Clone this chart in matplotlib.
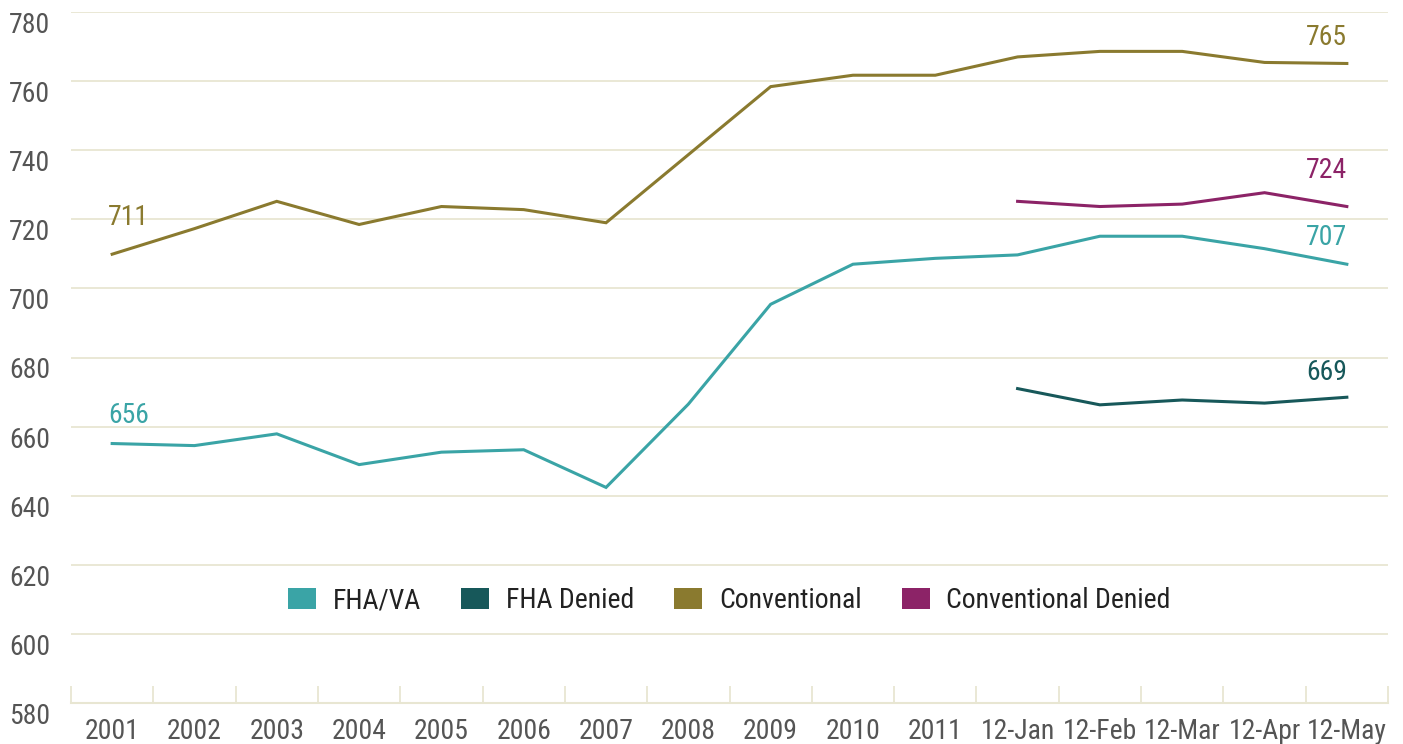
import matplotlib
matplotlib.use("Agg")
import matplotlib.pyplot as plt
from matplotlib import font_manager
from matplotlib.patches import Patch
import numpy as np

# pick a condensed face if one is installed
names = {(f.name, f.stretch) for f in font_manager.fontManager.ttflist}
family, stretch, scale = "Roboto", "normal", 0.88
for cand in ["Liberation Sans Narrow", "Roboto Condensed", "Open Sans Condensed",
             "Noto Sans Condensed"]:
    if any(n == cand for n, _ in names):
        family, stretch, scale = cand, "normal", 1.0
        break
else:
    if ("DejaVu Sans", "condensed") in names or ("DejaVu Sans", "semi-condensed") in names:
        family, stretch, scale = "DejaVu Sans", "condensed", 0.95
plt.rcParams['font.family'] = [family, 'DejaVu Sans']
plt.rcParams['font.stretch'] = stretch

# categories on the x axis
categories = ["2001", "2002", "2003", "2004", "2005", "2006", "2007", "2008",
              "2009", "2010", "2011", "12-Jan", "12-Feb", "12-Mar", "12-Apr", "12-May"]

# median credit scores, None = no value
fha_va = [655.1, 654.5, 657.9, 649.0, 652.6, 653.3, 642.4, 666.5,
          695.4, 707.0, 708.7, 709.7, 715.1, 715.1, 711.5, 707.0]
fha_denied = [None] * 11 + [671.0, 666.3, 667.7, 666.8, 668.5]
conventional = [709.9, 717.3, 725.2, 718.5, 723.7, 722.8, 719.0, 738.7,
                758.4, 761.7, 761.7, 767.0, 768.6, 768.6, 765.4, 765.1]
conv_denied = [None] * 11 + [725.2, 723.7, 724.4, 727.7, 723.7]

series_names = ["FHA/VA", "FHA Denied", "Conventional", "Conventional Denied"]
series_colors = ["#3aa4a6", "#17585a", "#8a7a2f", "#8c2367"]

# value labels: (series index, category index, text, alignment, offset pt)
labels = [(0, 0, "656", "left", 20), (2, 0, "711", "left", 26.5),
          (2, 15, "765", "right", 18.5), (3, 15, "724", "right", 26),
          (0, 15, "707", "right", 19.5), (1, 15, "669", "right", 17.5)]

grid_color = "#e8e6d2"
fs = 20 * scale

fig = plt.figure(figsize=(14.03, 7.44), dpi=100)
ax = fig.add_axes([71 / 1403, 1 - 703 / 744, 1317 / 1403, 691 / 744])

x = np.arange(len(categories)) + 0.5
all_series = [fha_va, fha_denied, conventional, conv_denied]
for vals, col in zip(all_series, series_colors):
    y = np.array([np.nan if v is None else v for v in vals], dtype=float)
    ax.plot(x, y, color=col, lw=2.2, solid_joinstyle="miter", zorder=3)

for si, ci, txt, ha, off in labels:
    v = all_series[si][ci]
    xo = x[ci] - 0.05 if ha == "left" else x[ci]
    ax.annotate(txt, xy=(xo, v), xytext=(0, off), textcoords="offset points",
                ha=ha, va="center", fontsize=fs, color=series_colors[si])

ax.set_xlim(0, len(categories))
ax.set_ylim(580, 780)
ax.set_yticks(np.arange(580, 781, 20))
ax.grid(axis="y", color=grid_color, lw=1.3)
ax.set_axisbelow(True)

for s in ["top", "right", "left"]:
    ax.spines[s].set_visible(False)
ax.spines["bottom"].set_color(grid_color)
ax.spines["bottom"].set_linewidth(1.5)

# boundary ticks (no labels) and centred category labels
ax.set_xticks(np.arange(len(categories) + 1))
ax.set_xticklabels([])
ax.tick_params(axis="x", which="major", direction="in", length=12,
               width=1.3, color=grid_color)
ax.set_xticks(x, minor=True)
ax.set_xticklabels(categories, minor=True)
ax.tick_params(axis="x", which="minor", length=0, pad=11, labelsize=fs,
               labelcolor="#555555")
ax.tick_params(axis="y", length=0, pad=15, labelsize=fs, labelcolor="#555555")
for t in ax.get_yticklabels():
    t.set_va("top")

handles = [Patch(facecolor=c, edgecolor="none") for c in series_colors]
ax.legend(handles, series_names, loc="center", bbox_to_anchor=(0.5, 0.148),
          ncol=4, frameon=False, fontsize=fs, handlelength=1.0,
          handleheight=0.75, handletextpad=0.6, columnspacing=1.45,
          labelcolor="#222222")

fig.savefig("out.png", dpi=100)
